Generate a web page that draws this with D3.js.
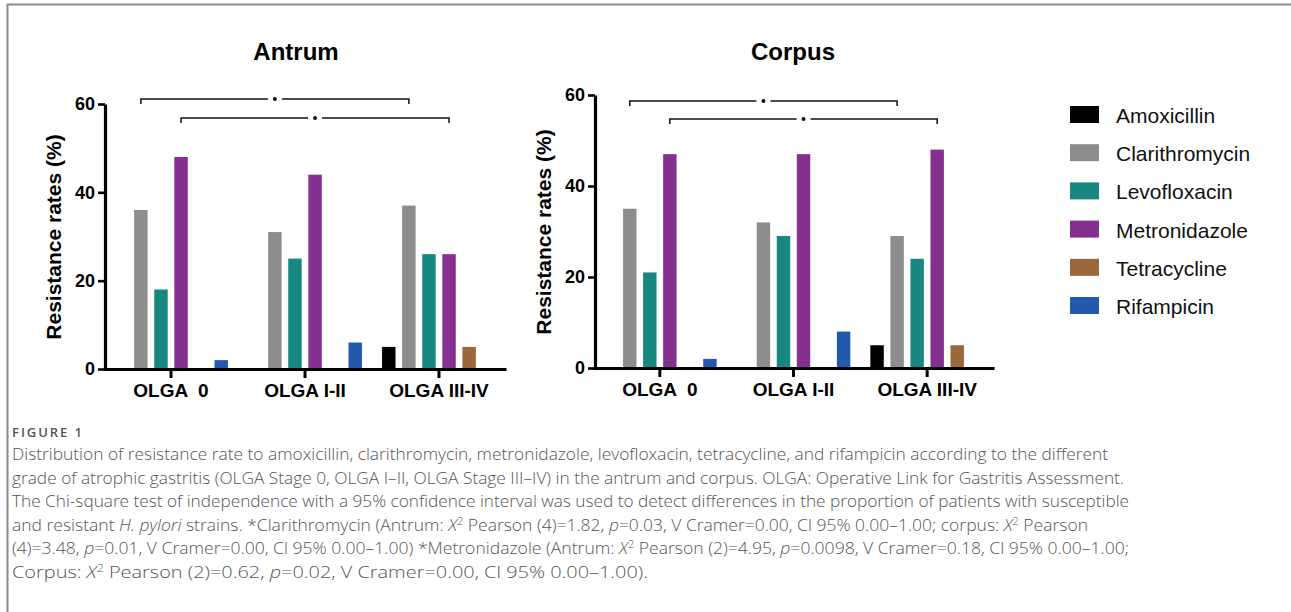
<!DOCTYPE html>
<html>
<head>
<meta charset="utf-8">
<script src="https://cdn.jsdelivr.net/npm/d3@7"></script>
<style>
  body { margin: 0; background: #fff; }
  svg text { white-space: pre; }
</style>
</head>
<body>
<div id="figure"></div>
<script>
// Width and height
var w = 1291;
var h = 612;

// Categories and series
var categories = ["OLGA  0", "OLGA I-II", "OLGA III-IV"];
var antibiotics = ["Amoxicillin", "Clarithromycin", "Levofloxacin", "Metronidazole", "Tetracycline", "Rifampicin"];
var barColors = ["#000000", "#8d8d8d", "#17877f", "#85308f", "#9a683b", "#2258ae"];

// Resistance rates (%), one row per antibiotic, one value per OLGA category
var antrumRates = [
  [0, 0, 5],     // Amoxicillin
  [36, 31, 37],  // Clarithromycin
  [18, 25, 26],  // Levofloxacin
  [48, 44, 26],  // Metronidazole
  [0, 0, 5],     // Tetracycline
  [2, 6, 0]      // Rifampicin
];
var corpusRates = [
  [0, 0, 5],
  [35, 32, 29],
  [21, 29, 24],
  [47, 47, 48],
  [0, 0, 5],
  [2, 8, 0]
];

var yTicks = [0, 20, 40, 60];

// Significant comparisons (drawn as brackets with a star)
var comparisons = [
  { series: "Clarithromycin", from: "OLGA  0", to: "OLGA III-IV" },
  { series: "Metronidazole", from: "OLGA  0", to: "OLGA III-IV" }
];

var captionLines = [
  [["Distribution of resistance rate to amoxicillin, clarithromycin, metronidazole, levofloxacin, tetracycline, and rifampicin according to the different"]],
  [["grade of atrophic gastritis (OLGA Stage 0, OLGA I\u2013II, OLGA Stage III\u2013IV) in the antrum and corpus. OLGA: Operative Link for Gastritis Assessment."]],
  [["The Chi-square test of independence with a 95% confidence interval was used to detect differences in the proportion of patients with susceptible"]],
  [["and resistant "], ["H. pylori", "i"], [" strains. *Clarithromycin (Antrum: "], ["X", "i"], ["2", "sup"], [" Pearson (4)=1.82, "], ["p", "i"], ["=0.03, V Cramer=0.00, Cl 95% 0.00\u20131.00; corpus: "], ["X", "i"], ["2", "sup"], [" Pearson"]],
  [["(4)=3.48, "], ["p", "i"], ["=0.01, V Cramer=0.00, Cl 95% 0.00\u20131.00) *Metronidazole (Antrum: "], ["X", "i"], ["2", "sup"], [" Pearson (2)=4.95, "], ["p", "i"], ["=0.0098, V Cramer=0.18, Cl 95% 0.00\u20131.00;"]],
  [["Corpus: "], ["X", "i"], ["2", "sup"], [" Pearson (2)=0.62, "], ["p", "i"], ["=0.02, V Cramer=0.00, Cl 95% 0.00\u20131.00)."]]
];
var captionWidths = [1096, 1112, 1117, 1076, 1117, 636];

// Create SVG element
var svg = d3.select("#figure")
            .append("svg")
            .attr("width", w)
            .attr("height", h)
            .style("font-family", "'Liberation Sans', Arial, Helvetica, sans-serif");

// Frame lines (top and left)
svg.append("line").attr("x1", 7).attr("x2", w).attr("y1", 4.5).attr("y2", 4.5)
   .attr("stroke", "#8a8a8a").attr("stroke-width", 2);
svg.append("line").attr("x1", 7.5).attr("x2", 7.5).attr("y1", 4).attr("y2", h)
   .attr("stroke", "#8a8a8a").attr("stroke-width", 2);

function drawPanel(cfg) {
    var g = svg.append("g");

    var x0 = d3.scaleBand()
               .domain(categories)
               .range(cfg.xRange)
               .paddingInner(0)
               .paddingOuter(0);

    var x1 = d3.scaleBand()
               .domain(antibiotics)
               .range([0, x0.bandwidth()])
               .paddingInner(0.33)
               .paddingOuter(0.5);

    var y = d3.scaleLinear()
              .domain([0, 60])
              .range(cfg.yRange);

    // Bars
    antibiotics.forEach(function(ab, i) {
        g.selectAll(null)
         .data(cfg.values[i])
         .enter()
         .append("rect")
         .attr("x", function(d, j) { return x0(categories[j]) + x1(ab); })
         .attr("y", function(d) { return y(d); })
         .attr("width", x1.bandwidth())
         .attr("height", function(d) { return y(0) - y(d); })
         .attr("fill", barColors[i]);
    });

    // Y axis
    var yAxis = g.append("g")
                 .attr("transform", "translate(" + cfg.yAxisX + ",0)")
                 .call(d3.axisLeft(y).tickValues(yTicks).tickSize(7).tickSizeOuter(0).tickPadding(3).tickFormat(d3.format("d")));
    yAxis.select(".domain").attr("stroke-width", 3.2).attr("stroke", "#000");
    yAxis.selectAll(".tick line").attr("stroke-width", 2.6);
    yAxis.selectAll("text")
         .attr("font-size", 18).attr("font-weight", "bold")
         .attr("font-family", "'Liberation Sans', Arial, sans-serif")
         .attr("fill", "#000");

    // X axis
    var xAxis = g.append("g")
                 .attr("transform", "translate(0," + y(0) + ")")
                 .call(d3.axisBottom(x0).tickSize(9).tickSizeOuter(0).tickPadding(6));
    xAxis.select(".domain").attr("stroke-width", 3.2).attr("stroke", "#000");
    xAxis.selectAll(".tick line").attr("stroke-width", 3);
    xAxis.selectAll("text")
         .attr("font-size", 19).attr("font-weight", "bold")
         .attr("font-family", "'Liberation Sans', Arial, sans-serif")
         .attr("fill", "#000");

    // Title
    g.append("text")
     .attr("x", cfg.titleX)
     .attr("y", 60)
     .attr("text-anchor", "middle")
     .attr("font-size", 24)
     .attr("font-weight", "bold")
     .text(cfg.title);

    // Y axis label
    g.append("text")
     .attr("transform", "translate(" + cfg.labelX + "," + cfg.labelY + ") rotate(-90)")
     .attr("text-anchor", "middle")
     .attr("font-size", 21)
     .attr("font-weight", "bold")
     .text("Resistance rates (%)");

    // Significance brackets
    comparisons.forEach(function(c, k) {
        var xa = x0(c.from) + x1(c.series) + x1.bandwidth() / 2;
        var xb = x0(c.to) + x1(c.series) + x1.bandwidth() / 2;
        var xm = (xa + xb) / 2;
        var by = y(60) + cfg.bracketOffsets[k];
        var path = d3.path();
        path.moveTo(xa, by + 5);
        path.lineTo(xa, by);
        path.lineTo(xm - 7, by);
        path.moveTo(xm + 7, by);
        path.lineTo(xb, by);
        path.lineTo(xb, by + 5);
        g.append("path")
         .attr("d", path.toString())
         .attr("fill", "none")
         .attr("stroke", "#111")
         .attr("stroke-width", 1.5);
        g.append("circle")
         .attr("cx", xm)
         .attr("cy", by)
         .attr("r", 2)
         .attr("fill", "#111");
    });
}

drawPanel({
    title: "Antrum",
    values: antrumRates,
    xRange: [104, 506],
    yRange: [369, 104],
    yAxisX: 105,
    titleX: 296,
    labelX: 61,
    labelY: 237,
    bracketOffsets: [-5, 14]
});

drawPanel({
    title: "Corpus",
    values: corpusRates,
    xRange: [593, 994],
    yRange: [368, 95],
    yAxisX: 595,
    titleX: 793,
    labelX: 551,
    labelY: 232,
    bracketOffsets: [6, 24]
});

// Legend
var legend = svg.append("g").attr("transform", "translate(1070,106)");
var items = legend.selectAll("g")
                  .data(antibiotics)
                  .enter()
                  .append("g")
                  .attr("transform", function(d, i) { return "translate(0," + (i * 38.2) + ")"; });
items.append("rect")
     .attr("width", 29)
     .attr("height", 17)
     .attr("fill", function(d, i) { return barColors[i]; });
items.append("text")
     .attr("x", 46)
     .attr("y", 17)
     .attr("font-size", 21)
     .attr("fill", "#111")
     .text(function(d) { return d; });

// Caption
var cap = svg.append("g").style("font-family", "'Open Sans', 'Noto Sans', sans-serif").attr("fill", "#555");
cap.append("text")
   .attr("x", 12)
   .attr("y", 437)
   .attr("font-size", 13)
   .attr("font-weight", 600)
   .attr("textLength", 70)
   .attr("lengthAdjust", "spacing")
   .text("FIGURE 1");

captionLines.forEach(function(parts, i) {
    var t = cap.append("text")
               .attr("x", 12)
               .attr("y", 460 + i * 23.6)
               .attr("font-size", 16)
               .attr("font-weight", 300)
               .attr("textLength", captionWidths[i])
               .attr("lengthAdjust", "spacingAndGlyphs");
    var raised = false;
    parts.forEach(function(p) {
        var ts = t.append("tspan").text(p[0]);
        if (p[1] === "i") ts.attr("font-style", "italic");
        if (p[1] === "sup") {
            ts.attr("font-size", 10).attr("dy", -6);
            raised = true;
        } else if (raised) {
            ts.attr("dy", 6);
            raised = false;
        }
    });
});
</script>
</body>
</html>
